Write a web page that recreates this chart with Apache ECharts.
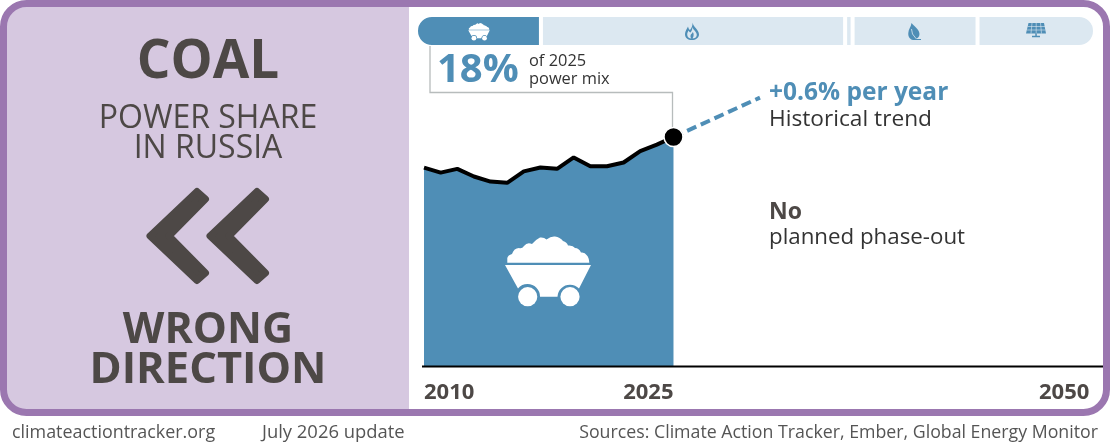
<!DOCTYPE html>
<html><head><meta charset="utf-8">
<style>html,body{margin:0;padding:0;background:#fff}#c{width:1110px;height:444px}</style>
<script src="https://cdn.jsdelivr.net/npm/echarts@6/dist/echarts.min.js"></script>
</head><body><div id="c"></div>
<script>
const years = [2010,2011,2012,2013,2014,2015,2016,2017,2018,2019,2020,2021,2022,2023,2024,2025];
const coalShare = [15.6,15.2,15.5,14.9,14.5,14.4,15.3,15.6,15.5,16.4,15.7,15.7,16.0,16.9,17.4,18.0];
const trendYears = [2025,2030.2];
const trendShare = [18.0,21.1];
const tickYears = [2010,2025,2050];
const mixNames = ['Coal','Gas','Oil','Hydro and nuclear','Renewables'];
const mixValues = [18.4,44.8,1.1,18.4,17.3];

const BLUE='#4f8eb6', LIGHT='#dce8f1', PURPLE='#9b77b0', LAV='#d6c8e0', DARK='#4d4846', FONT='"Open Sans"';
const chart = echarts.init(document.getElementById('c'),null,{renderer:'canvas'});

function txt(t,x,y,size,weight,fill,align){
  return {type:'text',z:20,silent:true,style:{text:t,x:x,y:y,fill:fill,align:align||'left',verticalAlign:'middle',
    font:(weight||'normal')+' '+size+'px '+FONT}};
}
const pilePath='M-40.7,-5.3 L-40.7,-10 Q-40,-13 -36,-14 Q-34,-20 -29,-20 Q-26,-19 -24,-22 Q-21,-26 -16,-24 Q-13,-28 -8,-30.5 Q-4,-31 -1.5,-28.5 Q3,-32 7,-31.5 Q12,-31 15,-27 Q19,-26 20,-22.5 Q25,-23 27,-20 Q31,-20 33,-15.5 Q37,-16 38.5,-13 Q41,-11 41.3,-5.3 Z';
const bodyPath='M-43,-3 L43,-3 L31,20.5 A12.5,12.5 0 0 0 9.5,28.7 L-8,28.7 A12.5,12.5 0 0 0 -30,20.5 Z';
function cartIcon(cx,cy,s,col){
  return {type:'group',x:cx,y:cy,scaleX:s,scaleY:s,children:[
    {type:'path',shape:{pathData:pilePath},style:{fill:col}},
    {type:'path',shape:{pathData:bodyPath},style:{fill:col}},
    {type:'circle',shape:{cx:-20.3,cy:28.7,r:9.6},style:{fill:col}},
    {type:'circle',shape:{cx:22,cy:28.7,r:9.6},style:{fill:col}}
  ]};
}
const flameOuter='M692.5,22.5 C693,27 699,29.5 699,34.5 C699,38 695.5,40 692,40 C688,40 685,38 685,34 C685,31 687,29 688,26.5 C688.5,28.5 689,29.5 690,30 C691.5,28 692.8,26 692.5,22.5 Z';
const flameInner='M692.3,27 C693,30 696.8,31.5 696.8,35 C696.8,37.5 694.5,38.5 692.5,38.5 C694,36.5 694,33.5 692.8,32 C692,34 690.5,34 690.5,36 C690.5,37 690.8,38 691.5,38.5 C689,38.5 687.2,37 687.2,34.5 C687.2,32.5 688,31.5 688.8,30.5 C689,31.5 689.8,32.5 690.5,32.5 C691.8,31 692.5,29 692.3,27 Z';
const leafPath='M911.5,23 C915,27 919,29 919.5,34 C919.5,37 917.5,38.5 915,39 L921,39 L921,40 L913,40 C910,39.5 908,37 908.3,33 C908.5,29 911,27 911.5,23 Z';
const leafVein='M911.5,29 L912.5,34 L916,38.5';
const solarPath='M1028.5,23 L1044,23 L1046,33.5 L1026,33.5 Z M1035.3,33.5 L1036.8,33.5 L1036.8,35.8 L1040,35.8 L1040,37.3 L1032,37.3 L1032,35.8 L1035.3,35.8 Z';
const solarGrid='M1027.6,26.5 L1045,26.5 M1027,30 L1045.5,30 M1032,23 L1031,33.5 M1036.2,23 L1036.2,33.5 M1040.5,23 L1041.5,33.5';

function iconGroup(){
  return {type:'group',children:[
    cartIcon(548,268,1,'#fff'),
    cartIcon(479,31,0.25,'#fff'),
    {type:'path',shape:{pathData:flameOuter},style:{fill:BLUE}},
    {type:'path',shape:{pathData:flameInner},style:{fill:LIGHT}},
    {type:'path',shape:{pathData:leafPath},style:{fill:BLUE}},
    {type:'path',shape:{pathData:leafVein},style:{fill:'none',stroke:LIGHT,lineWidth:0.8}},
    {type:'path',shape:{pathData:solarPath},style:{fill:BLUE}},
    {type:'path',shape:{pathData:solarGrid},style:{fill:'none',stroke:LIGHT,lineWidth:0.6}}
  ]};
}
function chev(dx){
  return {type:'polygon',x:dx,z:5,silent:true,shape:{points:[[197,191.5],[205.5,199],[169,236],[205.5,273],[197,280.5],[150,236]]},
    style:{fill:DARK,stroke:DARK,lineWidth:7,lineJoin:'round'}};
}
const graphic=[
  {type:'rect',z:1,silent:true,shape:{x:3.5,y:3.5,width:405.5,height:409,r:[23,0,0,23]},style:{fill:LAV}},
  {type:'rect',z:30,silent:true,shape:{x:3.5,y:3.5,width:1103,height:409,r:23},style:{fill:'none',stroke:PURPLE,lineWidth:7}},
  chev(0),chev(60),
  txt('COAL',208,63,53,'bold',DARK,'center'),
  txt('POWER SHARE',208,119,32,'normal',DARK,'center'),
  txt('IN RUSSIA',208,149,32,'normal',DARK,'center'),
  txt('WRONG',208,331,43,'bold',DARK,'center'),
  txt('DIRECTION',208,371,43.5,'bold',DARK,'center'),
  txt('18%',437,71,40,'bold',BLUE),
  txt('of 2025',529,61,16.4,'normal','#333'),
  txt('power mix',529,79,16.4,'normal','#333'),
  txt('+0.6% per year',769,93,24.5,'bold',BLUE),
  txt('Historical trend',769,120,22.7,'normal','#333'),
  txt('No',769,212,23,'bold',DARK),
  txt('planned phase-out',769,238,22.3,'normal','#333'),
  txt('climateactiontracker.org',12,433,17.9,'normal','#555'),
  txt('July 2026 update',262,433,18.4,'normal','#555'),
  txt('Sources: Climate Action Tracker, Ember, Global Energy Monitor',1098,433,17.75,'normal','#555','right'),
  {type:'polyline',z:6,silent:true,shape:{points:[[430,46],[430,92.5],[672.5,92.5],[672.5,130]]},style:{fill:'none',stroke:'#b7bcbc',lineWidth:1.3}},
  {type:'line',z:6,silent:true,shape:{x1:422,y1:366.5,x2:1103,y2:366.5},style:{stroke:'#000',lineWidth:2}}
];
const mixSeries=mixNames.map((n,i)=>({
  name:n,type:'bar',stack:'mix',xAxisIndex:1,yAxisIndex:1,barWidth:32,
  data:[mixValues[i]],silent:true,
  itemStyle:{color:i===0?BLUE:LIGHT,borderColor:'#fff',borderWidth:2,
    borderRadius:i===0?[15,0,0,15]:i===mixNames.length-1?[0,15,15,0]:0}
}));
chart.setOption({
  animation:false,backgroundColor:'#fff',
  grid:[{left:424,top:48,width:665.3,height:318},{left:416,top:15,width:679,height:32}],
  xAxis:[
    {type:'value',gridIndex:0,min:2010,max:2050,splitLine:{show:false},axisLine:{show:false},axisTick:{show:false},
     axisLabel:{customValues:tickYears,formatter:v=>String(v),align:'right',alignMinLabel:'left',alignMaxLabel:'right',margin:16,
       fontFamily:FONT,fontWeight:'bold',fontSize:22,color:DARK}},
    {type:'value',gridIndex:1,min:0,max:100,show:false}
  ],
  yAxis:[
    {type:'value',gridIndex:0,min:0,max:25,show:false},
    {type:'category',gridIndex:1,data:['Power mix'],show:false}
  ],
  graphic:graphic,
  series:[
    {name:'Coal share',type:'line',xAxisIndex:0,yAxisIndex:0,data:years.map((y,i)=>[y,coalShare[i]]),clip:false,z:3,
     showSymbol:false,silent:true,lineStyle:{color:'#000',width:4},itemStyle:{color:'#000'},areaStyle:{color:BLUE,opacity:1}},
    {name:'Trend',type:'line',xAxisIndex:0,yAxisIndex:0,data:trendYears.map((y,i)=>[y,trendShare[i]]),z:3,showSymbol:false,silent:true,
     lineStyle:{color:BLUE,width:4,type:[10,5]}},
    {name:'2025',type:'scatter',xAxisIndex:0,yAxisIndex:0,data:[[years[15],coalShare[15]]],symbolSize:19,z:8,silent:true,
     itemStyle:{color:'#000',borderColor:'#fff',borderWidth:1.5,opacity:1}},
    ...mixSeries,
    {name:'Icons',type:'custom',coordinateSystem:'none',data:[0],z:10,silent:true,renderItem:()=>iconGroup()}
  ]
});
</script></body></html>
